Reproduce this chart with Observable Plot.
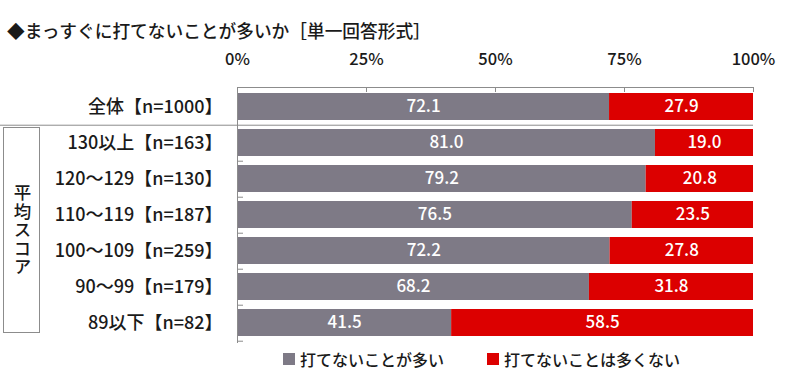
<!DOCTYPE html>
<html><head><meta charset="utf-8">
<script src="https://cdn.jsdelivr.net/npm/d3@7"></script>
<script src="https://cdn.jsdelivr.net/npm/@observablehq/plot@0.6"></script>
<style>
body{margin:0;background:#fff;font-family:"Noto Sans CJK JP",sans-serif;color:#1a1a1a}
#wrap{position:relative;width:800px;height:374px;overflow:hidden;background:#fff}
#title{height:44px;box-sizing:border-box;padding:20px 0 0 7px;font-size:17.7px;line-height:20px;white-space:nowrap;font-weight:500}
#chart svg{display:block}
#box{position:absolute;left:3px;top:127px;width:37px;height:206px;box-sizing:border-box;border:1.5px solid #8c8c8c;display:flex;align-items:center;justify-content:center}
#box span{writing-mode:vertical-rl;font-size:17.5px;line-height:17px;letter-spacing:1px;font-weight:500;margin-left:2px}
#legend{position:relative;height:30px;font-size:16px;font-weight:500}
.item{position:absolute;top:0;height:30px;display:flex;align-items:center;white-space:nowrap}
.sw{width:12px;height:12px;margin-right:5px}
</style></head>
<body>
<div id="wrap">
<div id="title">◆まっすぐに打てないことが多いか［単一回答形式］</div>
<div id="chart"></div>
<div id="legend"></div>
<div id="box"><span>平均スコア</span></div>
</div>
<script>
const labels = ["全体【n=1000】","130以上【n=163】","120～129【n=130】","110～119【n=187】","100～109【n=259】","90～99【n=179】","89以下【n=82】"];
const series = ["打てないことが多い","打てないことは多くない"];
const many = [72.1,81.0,79.2,76.5,72.2,68.2,41.5];
const notMany = [27.9,19.0,20.8,23.5,27.8,31.8,58.5];
const xTicks = [0,25,50,75,100];
const colors = ["#7e7a86","#dc0000"];

const data = labels.flatMap((label,i)=>[
  {label, series: series[0], value: many[i]},
  {label, series: series[1], value: notMany[i]}
]);

const H = 300, MT = 43, MB = 2, ML = 237, MR = 47;
const step = (H - MT - MB) / labels.length;
const axisColor = "#8c8c8c";

const chart = Plot.plot({
  width: 800, height: H, marginTop: MT, marginBottom: MB, marginLeft: ML, marginRight: MR,
  style: {fontFamily: '"Noto Sans CJK JP", sans-serif', fontSize: "16px", color: "#1a1a1a", background: "#fff"},
  x: {domain: [0,100], axis: null},
  y: {domain: labels, paddingInner: 0.24, paddingOuter: 0.12, axis: null},
  color: {domain: series, range: colors},
  marks: [
    Plot.barX(data, Plot.stackX({x: "value", y: "label", fill: "series"})),
    Plot.text(data, Plot.stackX({x: "value", y: "label", z: "series", text: d => d.value.toFixed(1), fill: "white", fontSize: 17, fontWeight: 500})),
    Plot.axisX({anchor: "top", ticks: xTicks, tickSize: 0, tickPadding: 23, tickFormat: d => d + "%", fontSize: 16.5, fontWeight: 500, label: null}),
    Plot.ruleX(xTicks.slice(1), {stroke: axisColor, insetBottom: H - MT - MB - 5}),
    Plot.frame({anchor: "top", stroke: axisColor}),
    Plot.frame({anchor: "left", stroke: axisColor}),
    Plot.axisY({anchor: "left", tickSize: 0, tickPadding: 15, fontSize: 18, fontWeight: 500, label: null}),
    Plot.tickY(labels.slice(1), {y: d => d, dy: step/2, insetRight: 800 - ML - MR - 6, stroke: axisColor}),
    Plot.tickY(labels.slice(0,1), {y: d => d, dy: step/2, insetLeft: -ML, stroke: axisColor})
  ]
});
document.getElementById("chart").appendChild(chart);

const legend = document.getElementById("legend");
const legendX = [283, 487];
series.forEach((s,i)=>{
  const it = document.createElement("div");
  it.className = "item";
  it.style.left = legendX[i] + "px";
  it.innerHTML = `<div class="sw" style="background:${colors[i]}"></div><span>${s}</span>`;
  legend.appendChild(it);
});
</script>
</body></html>
